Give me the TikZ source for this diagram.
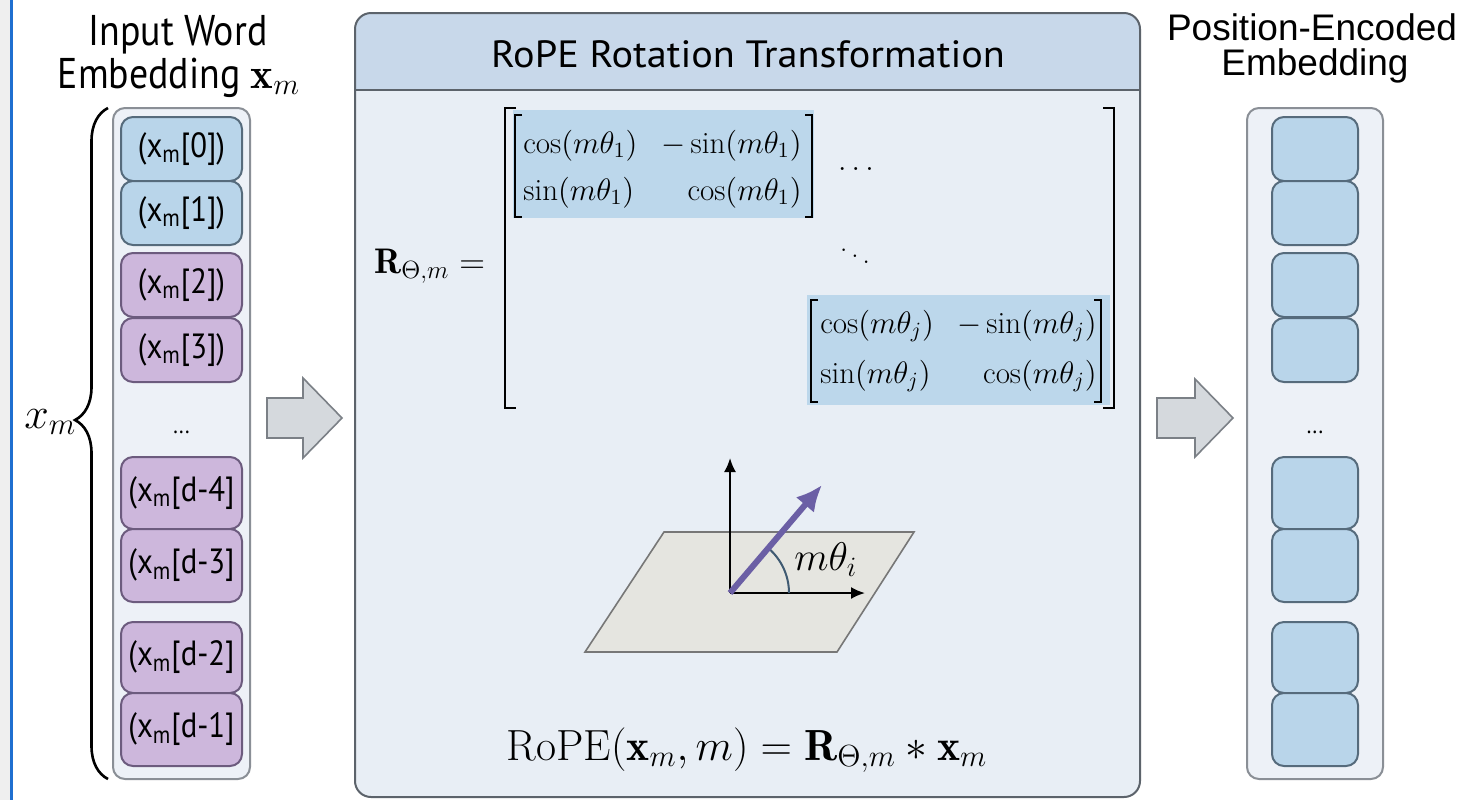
\RequirePackage{fix-cm}
\documentclass[tikz,border=0pt]{standalone}
\usepackage{amsmath}
\usepackage{fontspec}
\newfontfamily\nsans[FakeStretch=0.88]{PT Sans}
\newfontfamily\tsans[FakeStretch=1.06]{PT Sans}
\newfontfamily\asans{Liberation Sans}
\usetikzlibrary{arrows.meta,decorations.pathreplacing}
\definecolor{panelborder}{HTML}{8A8F96}
\definecolor{panelfill}{HTML}{EDF1F7}
\definecolor{midborder}{HTML}{5C636B}
\definecolor{headfill}{HTML}{C8D8EA}
\definecolor{bodyfill}{HTML}{E8EEF5}
\definecolor{bfill}{HTML}{B9D5EA}
\definecolor{bborder}{HTML}{566B7C}
\definecolor{pfill}{HTML}{CDB7DC}
\definecolor{pborder}{HTML}{6C5B7E}
\definecolor{hlcol}{HTML}{BCD7EB}
\definecolor{arrowfill}{HTML}{D5D9DD}
\definecolor{arrowborder}{HTML}{7B8086}
\definecolor{planefill}{HTML}{E5E5E0}
\definecolor{planeborder}{HTML}{777777}
\definecolor{veccol}{HTML}{6B5FA5}
\definecolor{arccol}{HTML}{3F5A72}
\definecolor{stripcol}{HTML}{EFEFEF}
\definecolor{bluelinecol}{HTML}{1F6FD0}
\begin{document}
\begin{tikzpicture}[x=0.5pt,y=-0.5pt,
  panel/.style={draw=panelborder, line width=1pt, fill=panelfill, rounded corners=6pt},
  cellbase/.style={rounded corners=6pt, line width=1pt, inner sep=0pt, minimum width=60.5pt,
     font=\nsans\fontsize{17.5}{17.5}\selectfont},
  bcell/.style={cellbase, draw=bborder, fill=bfill},
  pcell/.style={cellbase, draw=pborder, fill=pfill},
  rcell/.style={cellbase, minimum width=43pt, draw=bborder, fill=bfill},
  hdtext/.style={inner sep=0pt, anchor=base, font=\nsans\fontsize{21.5}{21.5}\selectfont},
  rhdtext/.style={inner sep=0pt, anchor=base, font=\asans\fontsize{18.5}{18.5}\selectfont},
  mtx/.style={inner sep=0pt, font=\fontsize{15.5}{15.5}\selectfont},
  bigbr/.style={line width=1.4pt, black},
  smbr/.style={line width=1pt, black},
  blockarrow/.style={fill=arrowfill, draw=arrowborder, line width=0.8pt, line join=miter},
  axisline/.style={line width=1pt, black, -{Latex[length=7pt,width=6pt]}},
  dotstext/.style={inner sep=0pt, font=\nsans\fontsize{12}{12}\selectfont}
]
% background and bounding box
\useasboundingbox (0,0) rectangle (1457,800);
\fill[white] (0,0) rectangle (1457,800);
\fill[stripcol] (0,0) rectangle (10,800);
\fill[bluelinecol] (10,0) rectangle (13,800);

% ---------- left panel ----------
\node[hdtext] (inA) at (178,45) {Input Word};
\node[hdtext] (inB) at (179,88) {Embedding $\mathbf{x}_m$};
\draw[panel] (113,108) rectangle (250,779);
\node[bcell, minimum height=32pt] (l0) at (181.5,149) {(x\textsubscript{m}[0])};
\node[bcell, minimum height=32pt] (l1) at (181.5,213) {(x\textsubscript{m}[1])};
\node[pcell, minimum height=32pt] (l2) at (181.5,285) {(x\textsubscript{m}[2])};
\node[pcell, minimum height=32pt] (l3) at (181.5,350) {(x\textsubscript{m}[3])};
\node[dotstext] (ldots) at (181.5,432) {...};
\node[pcell, minimum height=36pt] (l4) at (181.5,493) {(x\textsubscript{m}[d-4]};
\node[pcell, minimum height=36.5pt] (l5) at (181.5,565.5) {(x\textsubscript{m}[d-3]};
\node[pcell, minimum height=35.5pt] (l6) at (181.5,657.5) {(x\textsubscript{m}[d-2]};
\node[pcell, minimum height=36.5pt] (l7) at (181.5,729.5) {(x\textsubscript{m}[d-1]};
\draw[decorate, decoration={brace, amplitude=16.5pt, aspect=0.535}, line width=1.3pt]
  (108,779) -- (108,108);
\node[inner sep=0pt, anchor=base west, font=\fontsize{22}{22}\selectfont] (xm) at (24,428) {$x_m$};

% ---------- arrows ----------
\draw[blockarrow] (267,398) -- (303,398) -- (303,378) -- (342,418) -- (303,458) -- (303,438) -- (267,438) -- cycle;
\draw[blockarrow] (1157,398) -- (1195,398) -- (1195,379) -- (1233,418) -- (1195,457) -- (1195,438) -- (1157,438) -- cycle;

% ---------- middle panel ----------
\path[fill=bodyfill, rounded corners=8pt] (355,13) rectangle (1140,797);
\begin{scope}
  \clip[rounded corners=8pt] (355,13) rectangle (1140,797);
  \fill[headfill] (355,13) rectangle (1140,90);
\end{scope}
\draw[line width=0.9pt, draw=midborder] (355,90) -- (1140,90);
\draw[line width=1pt, draw=midborder, rounded corners=8pt] (355,13) rectangle (1140,797);
\node[inner sep=0pt, anchor=base, font=\tsans\fontsize{19}{19}\selectfont] (title) at (748,67) {RoPE Rotation Transformation};

% matrix
\node[inner sep=0pt, anchor=base west, font=\fontsize{17.8}{17.8}\selectfont] (R) at (374,273) {$\mathbf{R}_{\Theta,m} =$};
\draw[bigbr] (516,108) -- (505,108) -- (505,408) -- (516,408);
\draw[bigbr] (1103,108) -- (1114,108) -- (1114,408) -- (1103,408);
\fill[hlcol] (513,110) rectangle (814,218);
\draw[smbr] (522,115) -- (515,115) -- (515,217) -- (522,217);
\draw[smbr] (805,115) -- (812,115) -- (812,217) -- (805,217);
\node[mtx, anchor=base west] (a11) at (523,153) {$\cos(m\theta_1)$};
\node[mtx, anchor=base east] (a12) at (802,153) {$-\sin(m\theta_1)$};
\node[mtx, anchor=base west] (a21) at (523,200) {$\sin(m\theta_1)$};
\node[mtx, anchor=base east] (a22) at (802,200) {$\cos(m\theta_1)$};
\node[mtx, anchor=base] (hdots) at (856,170) {$\ldots$};
\node[mtx] (ddots) at (855,250) {$\ddots$};
\fill[hlcol] (807,295) rectangle (1110,405);
\draw[smbr] (818,300) -- (811,300) -- (811,402) -- (818,402);
\draw[smbr] (1094,300) -- (1101,300) -- (1101,402) -- (1094,402);
\node[mtx, anchor=base west] (b11) at (820,333) {$\cos(m\theta_j)$};
\node[mtx, anchor=base east] (b12) at (1097,333) {$-\sin(m\theta_j)$};
\node[mtx, anchor=base west] (b21) at (820,383) {$\sin(m\theta_j)$};
\node[mtx, anchor=base east] (b22) at (1097,383) {$\cos(m\theta_j)$};

% rotation figure
\draw[fill=planefill, draw=planeborder, line width=0.8pt] (664,532) -- (914,532) -- (837,652) -- (585,652) -- cycle;
\coordinate (O) at (730,593);
\coordinate (Ytip) at (730,458);
\coordinate (Xtip) at (865,593);
\coordinate (Vtip) at (822,485);
\draw[axisline] (O) -- (Ytip);
\draw[axisline] (O) -- (Xtip);
\draw[arccol, line width=1pt] (O) ++(59,0) arc[start angle=0, end angle=-49, radius=59];
\draw[veccol, line width=3pt, -{Latex[length=13pt,width=12pt]}] (O) -- (Vtip);
\node[inner sep=0pt, anchor=base west, font=\fontsize{20}{20}\selectfont] (lab) at (794,570) {$m\theta_i$};

% formula
\node[inner sep=0pt, anchor=base, font=\fontsize{21.8}{21.8}\selectfont] (formula) at (747,760)
  {$\mathrm{RoPE}(\mathbf{x}_m, m) = \mathbf{R}_{\Theta,m} * \mathbf{x}_m$};

% ---------- right panel ----------
\node[rhdtext] (outA) at (1312,40) {Position-Encoded};
\node[rhdtext] (outB) at (1315,75) {Embedding};
\draw[panel] (1247,108) rectangle (1383,779);
\node[rcell, minimum height=32pt] (r0) at (1315,149) {};
\node[rcell, minimum height=32pt] (r1) at (1315,213) {};
\node[rcell, minimum height=32pt] (r2) at (1315,285) {};
\node[rcell, minimum height=32pt] (r3) at (1315,350) {};
\node[dotstext] (rdots) at (1315,432) {...};
\node[rcell, minimum height=36pt] (r4) at (1315,493) {};
\node[rcell, minimum height=36.5pt] (r5) at (1315,565.5) {};
\node[rcell, minimum height=35.5pt] (r6) at (1315,657.5) {};
\node[rcell, minimum height=36.5pt] (r7) at (1315,729.5) {};
\end{tikzpicture}
\end{document}
